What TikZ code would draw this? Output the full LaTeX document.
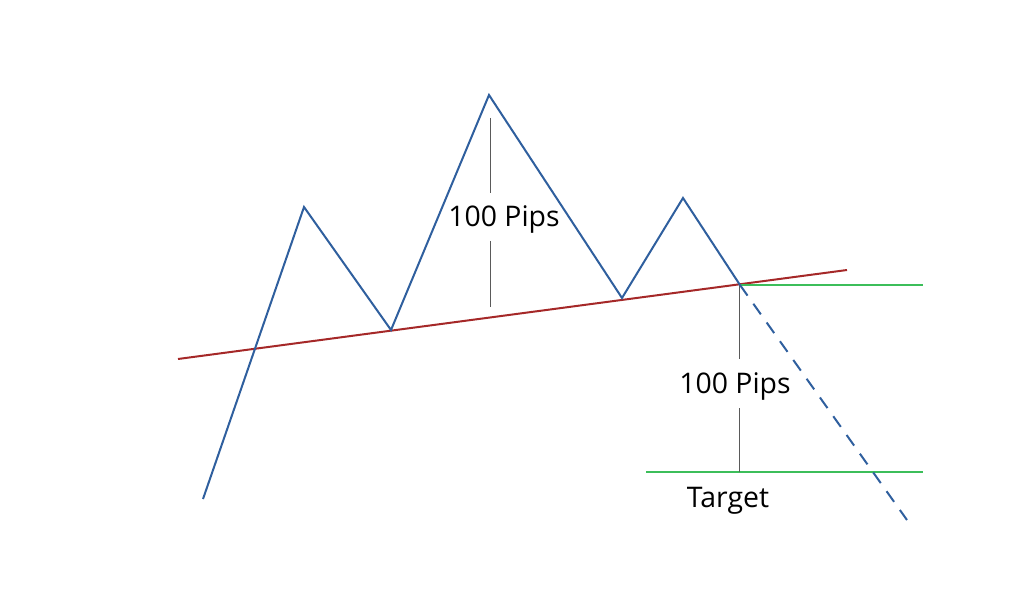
\documentclass[tikz,border=0pt]{standalone}
\usepackage{fontspec}
\setmainfont{Open Sans}
\usepackage{tikz}
\usepackage{color}
\usetikzlibrary{positioning}
\definecolor{priceblue}{RGB}{47,95,158}
\definecolor{neckred}{RGB}{165,40,40}
\definecolor{levelgreen}{RGB}{60,190,90}
\definecolor{markgray}{RGB}{90,90,90}

\begin{document}
\begin{tikzpicture}[x=0.5pt,y=-0.5pt]
		% Define styles
		\tikzstyle{price} = [priceblue, line width=1pt, line join=miter]
		\tikzstyle{neckline} = [neckred, line width=1pt]
		\tikzstyle{level} = [levelgreen, line width=0.8pt]
		\tikzstyle{measure} = [markgray, line width=0.5pt]
		\tikzstyle{label} = [inner sep=0pt, font=\fontsize{14.2}{17}\selectfont]
		
		% Frame
		\useasboundingbox (0,0) rectangle (1024,610);
		
		% Price points
		\coordinate (start) at (203,499);
		\coordinate (lshoulder) at (304,207);
		\coordinate (ltrough) at (391,330);
		\coordinate (head) at (489,95);
		\coordinate (rtrough) at (622,298);
		\coordinate (rshoulder) at (683,198);
		\coordinate (breakout) at (740,285);
		\coordinate (finish) at (907,520);
		
		% Neckline and levels
		\coordinate (neckleft) at (178,359);
		\coordinate (neckright) at (847,270);
		\coordinate (entryend) at (923,285);
		\coordinate (targetleft) at (646,472);
		\coordinate (targetright) at (923,472);
		
		% Labels
		\node [label] (headpips) at (504,219) {100 Pips};
		\node [label] (targetpips) at (735,386) {100 Pips};
		\node [label] (target) at (728,501) {Target};
		\coordinate (headtop) at (490,118);
		\coordinate (headbase) at (490,307);
		\coordinate (droptop) at (739,285);
		\coordinate (dropbase) at (739,472);
		
		% Draw lines
		\draw [neckline] (neckleft) -- (neckright);
		\draw [level] (breakout) -- (entryend);
		\draw [level] (targetleft) -- (targetright);
		\draw [measure] (headtop) -- (490,193);
		\draw [measure] (490,241) -- (headbase);
		\draw [measure] (droptop) -- (739,359);
		\draw [measure] (739,408) -- (dropbase);
		\draw [price] (start) -- (lshoulder) -- (ltrough) -- (head) -- (rtrough) -- (rshoulder) -- (breakout);
		\draw [price, dash pattern=on 6.5pt off 5pt] (breakout) -- (finish);
	\end{tikzpicture}
\end{document}
